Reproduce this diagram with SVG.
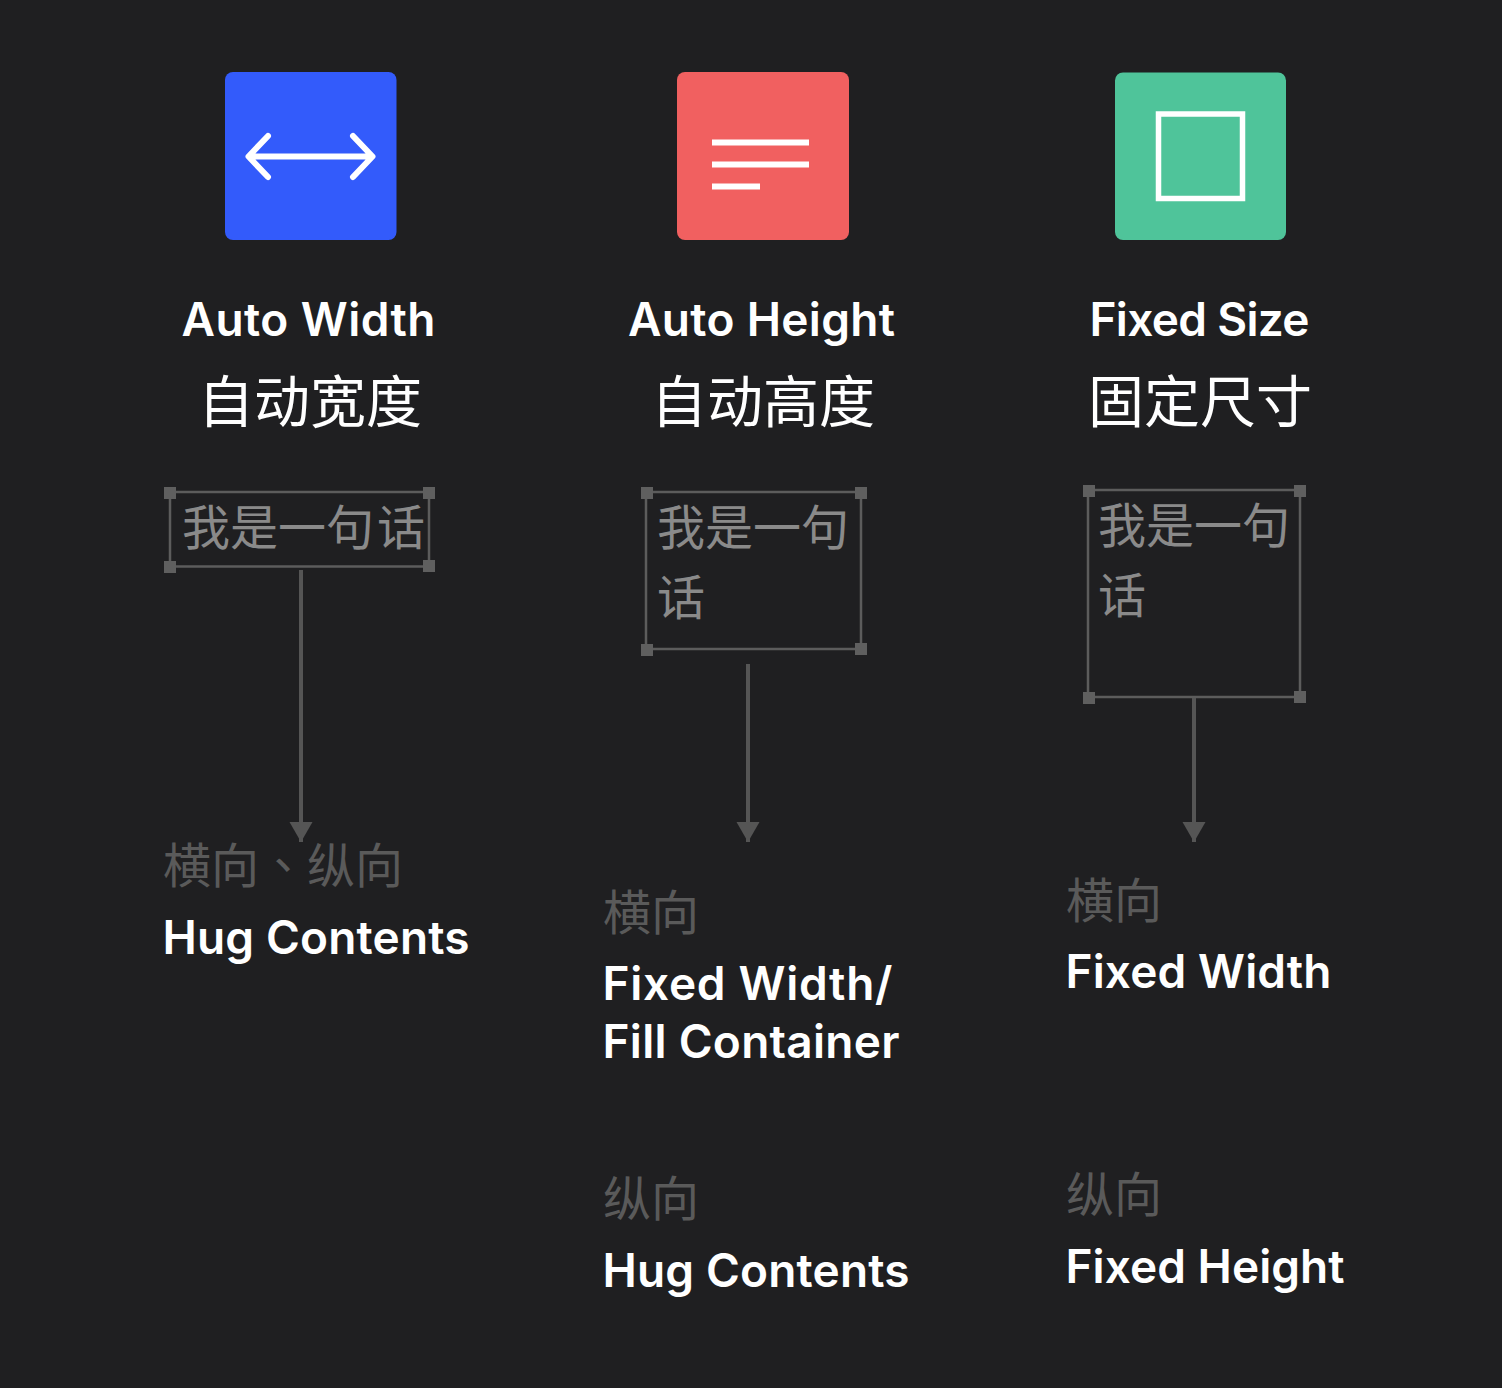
<svg xmlns="http://www.w3.org/2000/svg" width="1502" height="1388" viewBox="0 0 1502 1388">
<style>
.en{font-family:"Inter","Liberation Sans",sans-serif;font-weight:600;fill:#fff}
.t{font-size:46px}.s{font-size:46px}
.zh{font-family:"Noto Sans CJK SC",sans-serif;font-weight:400}
.tc{font-family:"Noto Sans CJK TC",sans-serif}
.h{font-size:56px;fill:#fff}
.b{font-size:48px;fill:#8a8a8a}
.g{font-size:48px;fill:#5a5a5a}
.f{fill:none;stroke:#5c5c5c;stroke-width:2.500}
.q{fill:#5f5f5f}
.c{stroke:#555;stroke-width:4;fill:none}
.w{stroke:#fff;fill:none}
</style>
<defs><marker id="ah" markerUnits="userSpaceOnUse" markerWidth="21" markerHeight="24" refX="20" refY="12" orient="auto"><path d="M0 0.500L20 12L0 23.500Z" fill="#555"/></marker></defs>
<rect width="1502" height="1388" fill="#1f1f21"/>
<g id="icon-auto-width"><rect x="225" y="72" width="171.500" height="168" rx="8" fill="#335bfb"/><path class="w" stroke-width="6" stroke-linecap="round" stroke-linejoin="round" d="M249 156.500H372M268 136L248.500 156.500L268 177M353 136L372.500 156.500L353 177"/></g>
<g id="icon-auto-height"><rect x="677" y="72" width="172" height="168" rx="8" fill="#f16060"/><g fill="#fff"><rect x="712" y="139.500" width="97" height="6"/><rect x="712" y="161.500" width="97" height="6"/><rect x="712" y="183.500" width="48" height="6"/></g></g>
<g id="icon-fixed-size"><rect x="1115" y="72.500" width="171" height="167.500" rx="8" fill="#4fc49a"/><rect x="1158.500" y="114" width="84" height="84.500" fill="none" stroke="#fff" stroke-width="5.500"/></g>
<g id="col1"><text class="en t" x="308.500" y="336" text-anchor="middle" textLength="254">Auto Width</text><text class="zh h" x="310" y="422" text-anchor="middle">自动宽度</text>
<g id="frame1"><rect class="f" x="170" y="492" width="259" height="74.500"/><rect class="q" x="164" y="487" width="12" height="12"/><rect class="q" x="423" y="487" width="12" height="12"/><rect class="q" x="164" y="561" width="12" height="12"/><rect class="q" x="423" y="560" width="12" height="12"/><text class="zh b" x="182" y="545">我是一句<tspan dx="3">话</tspan></text></g>
<text class="zh g tc" x="163" y="883">横向、纵向</text><text class="en s" x="162.500" y="954" textLength="307">Hug Contents</text></g>
<g id="col2"><text class="en t" x="761.500" y="336" text-anchor="middle" textLength="267">Auto Height</text><text class="zh h" x="763" y="422" text-anchor="middle">自动高度</text>
<g id="frame2"><rect class="f" x="646" y="492" width="215" height="157"/><rect class="q" x="641" y="487" width="12" height="12"/><rect class="q" x="855" y="487" width="12" height="12"/><rect class="q" x="641" y="644" width="12" height="12"/><rect class="q" x="855" y="643" width="12" height="12"/><text class="zh b" x="657" y="545">我是一句</text><text class="zh b" x="657" y="615">话</text></g>
<text class="zh g" x="603" y="930">横向</text><text class="en s" x="602.500" y="1000" textLength="290">Fixed Width/</text><text class="en s" x="602.500" y="1058" textLength="297">Fill Container</text><text class="zh g" x="603" y="1216">纵向</text><text class="en s" x="602.500" y="1287" textLength="307">Hug Contents</text></g>
<g id="col3"><text class="en t" x="1199.500" y="336" text-anchor="middle" textLength="220">Fixed Size</text><text class="zh h" x="1200" y="422" text-anchor="middle">固定尺寸</text>
<g id="frame3"><rect class="f" x="1088" y="490" width="212" height="207"/><rect class="q" x="1083" y="485" width="12" height="12"/><rect class="q" x="1294" y="485" width="12" height="12"/><rect class="q" x="1083" y="692" width="12" height="12"/><rect class="q" x="1294" y="691" width="12" height="12"/><text class="zh b" x="1098" y="543">我是一句</text><text class="zh b" x="1098" y="613">话</text></g>
<text class="zh g" x="1066" y="918">横向</text><text class="en s" x="1065.500" y="988" textLength="266">Fixed Width</text><text class="zh g" x="1066" y="1212">纵向</text><text class="en s" x="1065.500" y="1283" textLength="279">Fixed Height</text></g>
<g id="connectors"><path class="c" d="M301 570V842" marker-end="url(#ah)"/><path class="c" d="M748 664V842" marker-end="url(#ah)"/><path class="c" d="M1194 698V842" marker-end="url(#ah)"/></g>
</svg>
